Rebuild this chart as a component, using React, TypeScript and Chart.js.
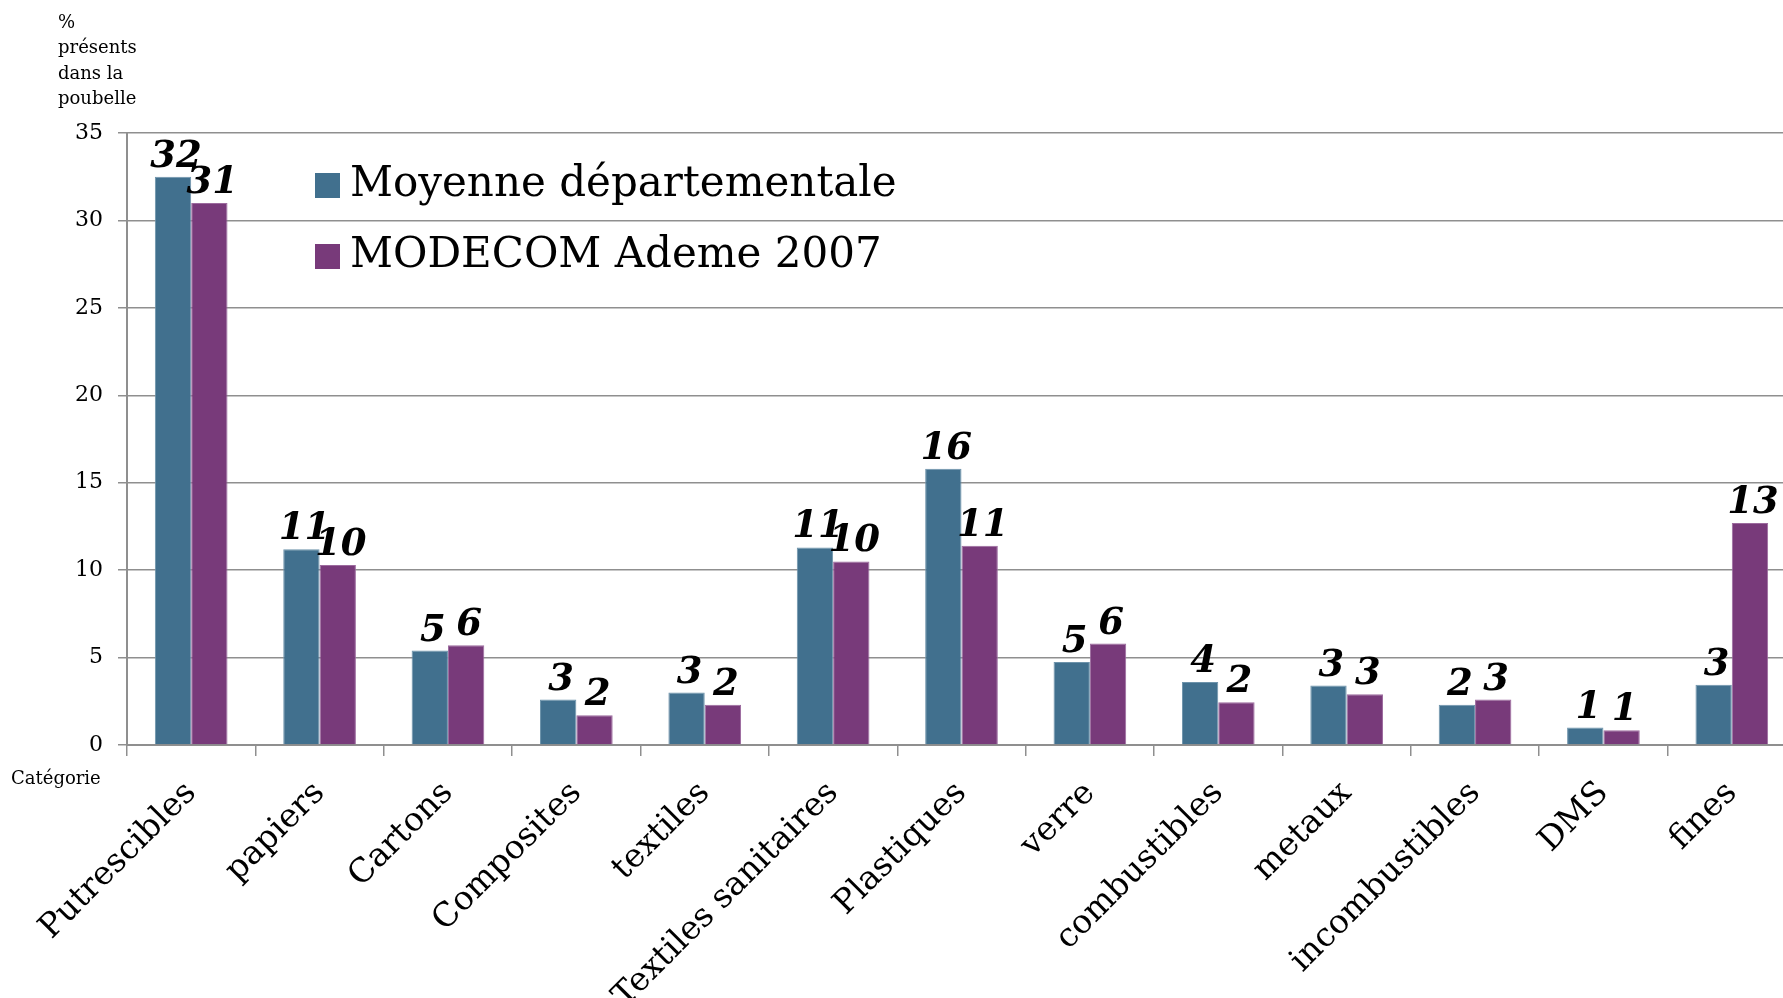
import React, { useEffect, useRef } from "react";
import { Chart, registerables } from "chart.js";

Chart.register(...registerables);

const categories = [
  "Putrescibles", "papiers", "Cartons", "Composites", "textiles",
  "Textiles sanitaires", "Plastiques", "verre", "combustibles", "metaux",
  "incombustibles", "DMS", "fines",
];
const seriesNames = ["Moyenne départementale", "MODECOM Ademe 2007"];
const moyenneValues = [32.5, 11.2, 5.4, 2.6, 3.0, 11.3, 15.8, 4.75, 3.6, 3.4, 2.3, 1.0, 3.45];
const modecomValues = [31.0, 10.3, 5.7, 1.7, 2.3, 10.5, 11.4, 5.8, 2.45, 2.9, 2.6, 0.85, 12.7];
const moyenneLabels = ["32", "11", "5", "3", "3", "11", "16", "5", "4", "3", "2", "1", "3"];
const modecomLabels = ["31", "10", "6", "2", "2", "10", "11", "6", "2", "3", "3", "1", "13"];
const yTicks = [0, 5, 10, 15, 20, 25, 30, 35];
const yTitleLines = ["%", "présents", "dans la", "poubelle"];
const xTitle = "Catégorie";

const BLUE = "#41708e";
const PURPLE = "#783a7a";
const GRID = "#8f8f8f";
const SERIF = "'DejaVu Serif', serif";

const valueLabelsPlugin = {
  id: "valueLabels",
  afterDatasetsDraw(chart: any) {
    const ctx = chart.ctx;
    const labelSets = [moyenneLabels, modecomLabels];
    ctx.save();
    ctx.font = `italic bold 37px ${SERIF}`;
    ctx.fillStyle = "#000";
    ctx.textAlign = "center";
    ctx.textBaseline = "alphabetic";
    chart.data.datasets.forEach((ds: any, di: number) => {
      const meta = chart.getDatasetMeta(di);
      meta.data.forEach((bar: any, i: number) => {
        ctx.fillText(labelSets[di][i], bar.x + 3, bar.y - 10);
      });
    });
    ctx.restore();
  },
};

const decorPlugin = {
  id: "decor",
  afterDraw(chart: any) {
    const ctx = chart.ctx;
    ctx.save();
    // legend
    const colors = [BLUE, PURPLE];
    const rows = [185, 256];
    ctx.font = `42px ${SERIF}`;
    ctx.textBaseline = "middle";
    ctx.textAlign = "left";
    seriesNames.forEach((name, i) => {
      ctx.fillStyle = colors[i];
      ctx.fillRect(315, rows[i] - 12, 25, 25);
      ctx.fillStyle = "#000";
      ctx.fillText(name, 350, rows[i]);
    });
    // y title
    ctx.font = `18px ${SERIF}`;
    yTitleLines.forEach((line, i) => {
      ctx.fillText(line, 58, 23 + i * 25.6);
    });
    // x title
    ctx.fillText(xTitle, 11, 779);
    ctx.restore();
  },
};

export default function App() {
  const canvasRef = useRef<HTMLCanvasElement | null>(null);

  useEffect(() => {
    document.body.style.margin = "0";
    const canvas = canvasRef.current;
    if (!canvas) return;
    const chart = new Chart(canvas, {
      type: "bar",
      data: {
        labels: categories,
        datasets: [
          {
            label: seriesNames[0],
            data: moyenneValues,
            backgroundColor: BLUE,
            borderColor: "#6d93ab",
            borderWidth: 1,
            categoryPercentage: 0.566,
            barPercentage: 1,
          },
          {
            label: seriesNames[1],
            data: modecomValues,
            backgroundColor: PURPLE,
            borderColor: "#9c6a9e",
            borderWidth: 1,
            categoryPercentage: 0.566,
            barPercentage: 1,
          },
        ],
      },
      options: {
        responsive: false,
        animation: false,
        devicePixelRatio: 1,
        layout: { padding: { top: 133, right: 4, left: 0, bottom: 0 } },
        plugins: {
          legend: { display: false },
          tooltip: { enabled: false },
        },
        scales: {
          x: {
            offset: true,
            grid: {
              display: true,
              drawOnChartArea: false,
              drawTicks: true,
              tickLength: 11,
              color: GRID,
              lineWidth: 1.5,
              offset: true,
            },
            border: { color: GRID, width: 2 },
            ticks: {
              minRotation: 45,
              maxRotation: 45,
              autoSkip: false,
              color: "#000",
              font: { family: SERIF, size: 33 },
              padding: 18,
            },
            afterFit: (s: any) => {
              s.height = 998 - 745;
            },
          },
          y: {
            min: 0,
            max: 35,
            afterBuildTicks: (s: any) => {
              s.ticks = yTicks.map((v) => ({ value: v }));
            },
            grid: {
              color: GRID,
              lineWidth: 1.5,
              tickLength: 9,
            },
            border: { color: GRID, width: 2 },
            ticks: {
              color: "#000",
              font: { family: SERIF, size: 22 },
              padding: 15,
            },
            afterFit: (s: any) => {
              s.width = 127;
            },
          },
        },
      },
      plugins: [valueLabelsPlugin, decorPlugin],
    });
    return () => chart.destroy();
  }, []);

  return (
    <div
      style={{
        position: "fixed",
        left: 0,
        top: 0,
        width: 1783,
        height: 998,
        overflow: "hidden",
        background: "#fff",
      }}
    >
      <canvas
        ref={canvasRef}
        width={1800}
        height={998}
        style={{ width: 1800, height: 998, display: "block" }}
      />
    </div>
  );
}
